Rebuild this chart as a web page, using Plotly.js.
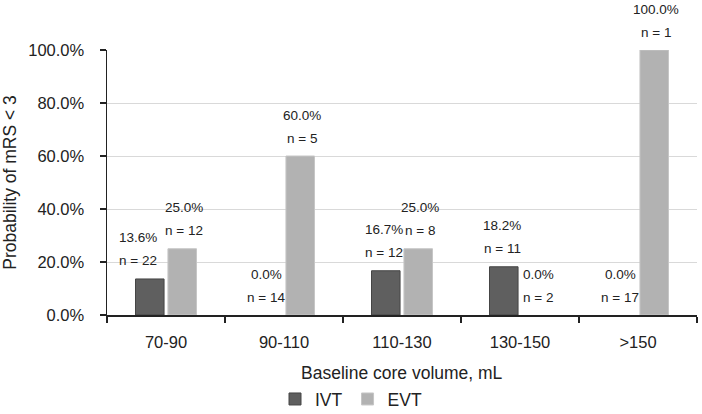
<!DOCTYPE html>
<html>
<head>
<meta charset="utf-8">
<script src="https://cdn.plot.ly/plotly-3.0.1.min.js"></script>
<style>
  html, body { margin: 0; padding: 0; background: #fff; }
  #chart { width: 702px; height: 414px; }
</style>
</head>
<body>
<div id="chart"></div>
<script>
// Probability of mRS < 3 by baseline core volume, IVT vs EVT

const categories = ['70-90', '90-110', '110-130', '130-150', '>150'];
const ivtProb = [0.136, 0.0, 0.167, 0.182, 0.0];
const evtProb = [0.25, 0.60, 0.25, 0.0, 1.0];
const ivtN = [22, 14, 12, 11, 17];
const evtN = [12, 5, 8, 2, 1];

const FONT = 'Liberation Sans, Arial, sans-serif';
const TICK_SIZE = 16.5;
const TITLE_SIZE = 17.5;
const BAR_OFFSET = 18;   // px from category centre to each bar centre

// no outline on empty bars, otherwise a sliver shows at zero
const edge = vals => vals.map(v => (v > 0 ? 1 : 0));

const traces = [
    {
        type: 'bar', name: 'IVT', x: categories, y: ivtProb,
        marker: { color: '#5f5f5f', line: { color: '#454545', width: edge(ivtProb) } },
        hoverinfo: 'skip',
    },
    {
        type: 'bar', name: 'EVT', x: categories, y: evtProb,
        marker: { color: '#b2b2b2', line: { color: '#c6c6c6', width: edge(evtProb) } },
        hoverinfo: 'skip',
    },
];

// Two-line labels above each bar: percent, then n
const annotations = [];
function addLabels(values, counts, side, nudge) {
    values.forEach((v, i) => {
        const xs = side * BAR_OFFSET + (nudge[i] || 0);
        const common = {
            x: categories[i], y: v, xref: 'x', yref: 'y',
            xshift: xs, showarrow: false, yanchor: 'middle',
            font: { family: FONT, size: 13.5, color: '#222' },
        };
        annotations.push({ ...common, text: (v * 100).toFixed(1) + '%', yshift: 41 });
        annotations.push({ ...common, text: 'n = ' + counts[i], yshift: 18 });
    });
}
addLabels(ivtProb, ivtN, -1, [-10]);
addLabels(evtProb, evtN, 1, []);

// x-axis title placed below the tick labels
annotations.push({
    text: 'Baseline core volume, mL', xref: 'paper', yref: 'paper',
    x: 0.5, y: 0, yshift: -58, yanchor: 'middle', showarrow: false,
    font: { family: FONT, size: TITLE_SIZE, color: '#222' },
});

const layout = {
    width: 702, height: 414,
    paper_bgcolor: '#fff', plot_bgcolor: '#fff',
    font: { family: FONT, size: TICK_SIZE, color: '#222' },
    margin: { l: 107, r: 5, t: 50, b: 99, autoexpand: false },
    barmode: 'group', bargap: 0.45, bargroupgap: 0.12,
    showlegend: true,
    legend: {
        orientation: 'h', xref: 'container', yref: 'container',
        x: 0.5, xanchor: 'center', y: 0.036, yanchor: 'middle',
        font: { family: FONT, size: TITLE_SIZE, color: '#222' },
        traceorder: 'normal',
    },
    xaxis: {
        type: 'category',
        showline: true, linecolor: '#222', linewidth: 1.5,
        ticks: 'outside', tickson: 'boundaries', ticklen: 6, tickcolor: '#222', tickwidth: 1.5,
        ticklabelstandoff: 12,
        tickfont: { family: FONT, size: TICK_SIZE, color: '#222' },
        fixedrange: true,
    },
    yaxis: {
        range: [0, 1], dtick: 0.2, tickformat: '.1%',
        showline: true, linecolor: '#222', linewidth: 1.5,
        ticks: 'outside', ticklen: 6, tickcolor: '#222', tickwidth: 1.5,
        ticklabelstandoff: 12,
        showgrid: true, gridcolor: '#d9d9d9', gridwidth: 1,
        zeroline: false,
        tickfont: { family: FONT, size: TICK_SIZE, color: '#222' },
        title: { text: 'Probability of mRS < 3', standoff: 10, font: { family: FONT, size: TITLE_SIZE, color: '#222' } },
        fixedrange: true,
    },
    annotations,
};

Plotly.newPlot('chart', traces, layout, { displayModeBar: false, staticPlot: true });
</script>
</body>
</html>
